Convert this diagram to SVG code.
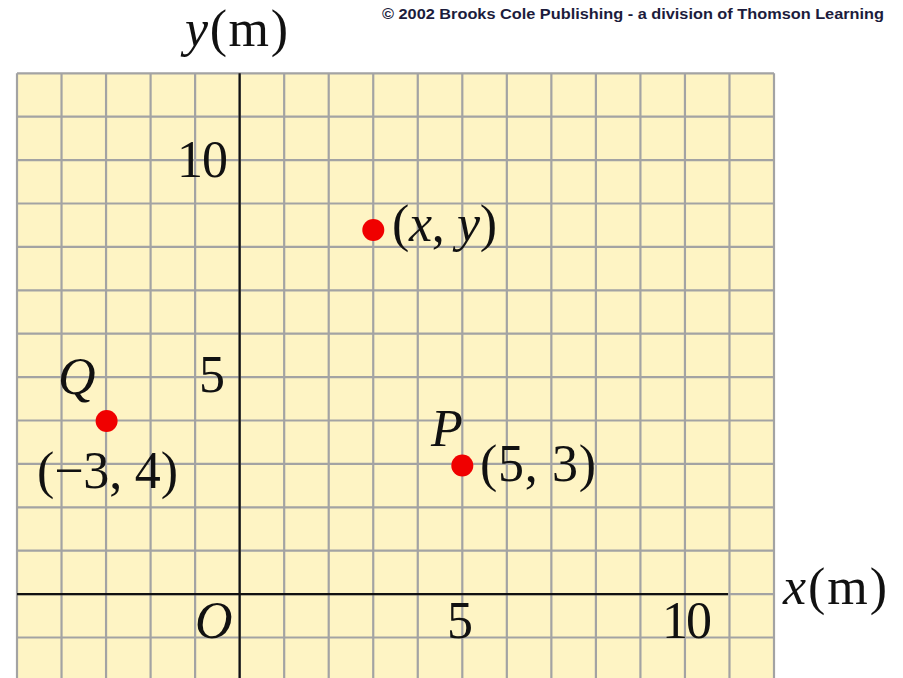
<svg xmlns="http://www.w3.org/2000/svg" width="903" height="678" viewBox="0 0 903 678">
<style>
.t{font-family:"Liberation Serif","Times New Roman",serif;font-size:52px;fill:#111}
.i{font-style:italic}
.dot{fill:#f00000}
.grid{stroke:#a3a3a3;stroke-width:2.2;fill:none}
.axis{stroke:#111;stroke-width:2.2;fill:none}
</style>
<rect width="903" height="678" fill="#ffffff"/>
<text x="382" y="19" font-family="Liberation Sans, Arial, sans-serif" font-weight="bold" font-size="15.5" fill="#1c1c3c" textLength="502" lengthAdjust="spacingAndGlyphs">© 2002 Brooks Cole Publishing - a division of Thomson Learning</text>
<g id="grid">
<rect x="17" y="73.3" width="757" height="610" fill="#fef4c4"/>
<path class="grid" d="M17 73.3V678M61.53 73.3V678M106.06 73.3V678M150.59 73.3V678M195.12 73.3V678M239.65 73.3V678M284.18 73.3V678M328.71 73.3V678M373.24 73.3V678M417.77 73.3V678M462.3 73.3V678M506.83 73.3V678M551.36 73.3V678M595.89 73.3V678M640.42 73.3V678M684.95 73.3V678M729.48 73.3V678M774 73.3V678
M17 73.3H774M17 116.7H774M17 160.1H774M17 203.5H774M17 246.9H774M17 290.3H774M17 333.7H774M17 377.1H774M17 420.5H774M17 463.9H774M17 507.3H774M17 550.7H774M17 594.1H774M17 637.5H774"/>
</g>
<g id="connectors">
<path class="axis" d="M17 594.1H728"/>
<path class="axis" d="M239.65 73.3V678"/>
</g>
<g id="axis-labels">
<text class="t" x="185" y="46" textLength="103" lengthAdjust="spacing"><tspan class="i">y</tspan>(m)</text>
<text class="t" x="783" y="604" textLength="104" lengthAdjust="spacing"><tspan class="i">x</tspan>(m)</text>
<text class="t i" x="195" y="638">O</text>
<text class="t" x="447" y="638">5</text>
<text class="t" x="662" y="638" textLength="50" lengthAdjust="spacing">10</text>
<text class="t" x="199" y="392">5</text>
<text class="t" x="177" y="177" textLength="51" lengthAdjust="spacing">10</text>
</g>
<g id="point-xy">
<circle class="dot" cx="373.3" cy="230" r="11"/>
<text class="t" x="392" y="241" textLength="105" lengthAdjust="spacing">(<tspan class="i">x</tspan>, <tspan class="i">y</tspan>)</text>
</g>
<g id="point-Q">
<circle class="dot" cx="106.6" cy="421" r="11"/>
<text class="t i" x="58" y="394">Q</text>
<text class="t" x="37" y="488" textLength="141" lengthAdjust="spacing">(−3, 4)</text>
</g>
<g id="point-P">
<circle class="dot" cx="462.3" cy="465.5" r="11"/>
<text class="t i" x="431" y="446">P</text>
<text class="t" x="480" y="481" textLength="116" lengthAdjust="spacing">(5, 3)</text>
</g>
</svg>
